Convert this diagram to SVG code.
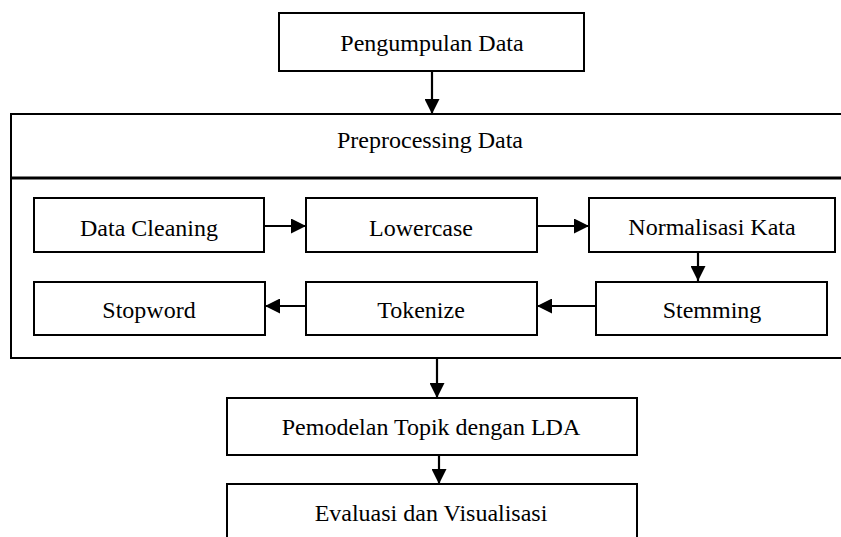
<svg xmlns="http://www.w3.org/2000/svg" width="841" height="537" viewBox="0 0 841 537">
<style>
.box{fill:#fff;stroke:#000;stroke-width:2}
.t{font-family:"Liberation Serif","Times New Roman",serif;font-size:24px;fill:#000;text-anchor:middle}
.c{stroke:#000;stroke-width:2.2;fill:none}
</style>
<defs>
<marker id="ah" markerWidth="15" markerHeight="15" viewBox="0 0 15 15" refX="15" refY="7.5" orient="auto" markerUnits="userSpaceOnUse">
<path d="M0,0 L15,7.5 L0,15 Z" fill="#000"/>
</marker>
</defs>
<rect width="841" height="537" fill="#fff"/>
<g id="pengumpulan">
<rect class="box" x="279" y="13" width="305" height="58"/>
<text class="t" x="432" y="51">Pengumpulan Data</text>
</g>
<g id="preprocessing">
<rect class="box" x="11" y="114" width="832" height="244"/>
<line x1="11" y1="178" x2="843" y2="178" stroke="#000" stroke-width="3"/>
<text class="t" x="430" y="148">Preprocessing Data</text>
</g>
<g id="cleaning">
<rect class="box" x="34" y="198" width="230" height="54"/>
<text class="t" x="149" y="236">Data Cleaning</text>
</g>
<g id="lowercase">
<rect class="box" x="306" y="198" width="231" height="54"/>
<text class="t" x="421" y="236">Lowercase</text>
</g>
<g id="normalisasi">
<rect class="box" x="589" y="198" width="246" height="54"/>
<text class="t" x="712" y="235">Normalisasi Kata</text>
</g>
<g id="stopword">
<rect class="box" x="34" y="282" width="231" height="53"/>
<text class="t" x="149" y="318">Stopword</text>
</g>
<g id="tokenize">
<rect class="box" x="306" y="282" width="231" height="53"/>
<text class="t" x="421" y="318">Tokenize</text>
</g>
<g id="stemming">
<rect class="box" x="596" y="282" width="231" height="53"/>
<text class="t" x="712" y="318">Stemming</text>
</g>
<g id="pemodelan">
<rect class="box" x="227" y="398" width="410" height="57"/>
<text class="t" x="431" y="435">Pemodelan Topik dengan LDA</text>
</g>
<g id="evaluasi">
<rect class="box" x="227" y="484" width="410" height="70"/>
<text class="t" x="431" y="521">Evaluasi dan Visualisasi</text>
</g>
<g id="connectors">
<line class="c" x1="432" y1="71" x2="432" y2="114" marker-end="url(#ah)"/>
<line class="c" x1="264" y1="226" x2="306" y2="226" marker-end="url(#ah)"/>
<line class="c" x1="537" y1="226" x2="589" y2="226" marker-end="url(#ah)"/>
<line class="c" x1="698" y1="252" x2="698" y2="281" marker-end="url(#ah)"/>
<line class="c" x1="596" y1="306" x2="537" y2="306" marker-end="url(#ah)"/>
<line class="c" x1="306" y1="306" x2="265" y2="306" marker-end="url(#ah)"/>
<line class="c" x1="437" y1="358" x2="437" y2="398" marker-end="url(#ah)"/>
<line class="c" x1="439" y1="455" x2="439" y2="484" marker-end="url(#ah)"/>
</g>
</svg>
